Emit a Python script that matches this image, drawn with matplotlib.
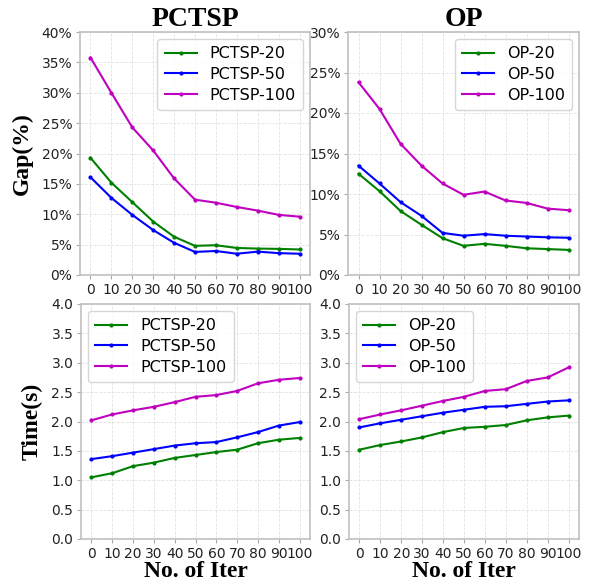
import matplotlib
matplotlib.use("Agg")
import matplotlib.pyplot as plt
from matplotlib.ticker import FuncFormatter

iters = [0, 10, 20, 30, 40, 50, 60, 70, 80, 90, 100]

pctsp_gap_20 = [19.3, 15.2, 12.0, 8.8, 6.3, 4.8, 4.9, 4.45, 4.35, 4.3, 4.2]
pctsp_gap_50 = [16.1, 12.7, 9.9, 7.4, 5.3, 3.8, 3.95, 3.5, 3.85, 3.6, 3.5]
pctsp_gap_100 = [35.8, 30.0, 24.3, 20.5, 15.9, 12.4, 11.9, 11.2, 10.6, 9.9, 9.6]

op_gap_20 = [12.5, 10.35, 7.9, 6.2, 4.55, 3.6, 3.85, 3.6, 3.3, 3.2, 3.1]
op_gap_50 = [13.5, 11.3, 9.0, 7.3, 5.2, 4.85, 5.05, 4.85, 4.75, 4.65, 4.6]
op_gap_100 = [23.8, 20.5, 16.2, 13.5, 11.3, 9.9, 10.3, 9.2, 8.9, 8.2, 8.0]

pctsp_time_20 = [1.05, 1.12, 1.24, 1.30, 1.38, 1.43, 1.48, 1.52, 1.63, 1.69, 1.72]
pctsp_time_50 = [1.36, 1.41, 1.47, 1.53, 1.59, 1.63, 1.65, 1.73, 1.82, 1.93, 1.99]
pctsp_time_100 = [2.02, 2.12, 2.19, 2.25, 2.33, 2.42, 2.45, 2.52, 2.65, 2.71, 2.74]

op_time_20 = [1.52, 1.60, 1.66, 1.73, 1.82, 1.89, 1.91, 1.94, 2.02, 2.07, 2.10]
op_time_50 = [1.90, 1.97, 2.03, 2.09, 2.15, 2.20, 2.25, 2.26, 2.30, 2.34, 2.36]
op_time_100 = [2.04, 2.12, 2.19, 2.27, 2.35, 2.42, 2.52, 2.55, 2.69, 2.75, 2.92]

colors = ["green", "blue", "m"]
serif = "Liberation Serif"

fig = plt.figure(figsize=(5.92, 5.85), dpi=100)
W, H = 592, 585

def mk(l, r, t, b):
    return fig.add_axes([l / W, 1 - b / H, (r - l) / W, (b - t) / H])

ax_tl = mk(80, 310, 32, 275)
ax_tr = mk(348, 579, 32, 275)
ax_bl = mk(81, 310, 304, 539)
ax_br = mk(349, 579, 304, 539)

def style(ax, series, labels, ylim, yticks, pct, legloc):
    for ys, lab, c in zip(series, labels, colors):
        ax.plot(iters, ys, color=c, marker='.', markersize=4, linewidth=1.5, label=lab)
    ax.set_xticks(iters)
    ax.set_xlim(-5, 105)
    ax.set_ylim(*ylim)
    ax.set_yticks(yticks)
    if pct:
        ax.yaxis.set_major_formatter(FuncFormatter(lambda v, p: f"{v:.0f}%"))
    else:
        ax.yaxis.set_major_formatter(FuncFormatter(lambda v, p: f"{v:.1f}"))
    ax.tick_params(labelsize=10, labelcolor="#222222", length=3, color="#aaaaaa", pad=2.5)
    ax.grid(True, linestyle='--', color='#e2e2e2', linewidth=0.6)
    for s in ax.spines.values():
        s.set_color('#c0c0c0')
        s.set_linewidth(1.2)
    ax.legend(loc=legloc, fontsize=11.5, handlelength=2.0, borderpad=0.45,
              labelspacing=0.35, handletextpad=0.8, fancybox=True, borderaxespad=0.45)

style(ax_tl, [pctsp_gap_20, pctsp_gap_50, pctsp_gap_100],
      ["PCTSP-20", "PCTSP-50", "PCTSP-100"], (0, 40), range(0, 41, 5), True, "upper right")
style(ax_tr, [op_gap_20, op_gap_50, op_gap_100],
      ["OP-20", "OP-50", "OP-100"], (0, 30), range(0, 31, 5), True, "upper right")
style(ax_bl, [pctsp_time_20, pctsp_time_50, pctsp_time_100],
      ["PCTSP-20", "PCTSP-50", "PCTSP-100"], (0, 4), [i * 0.5 for i in range(9)], False, "upper left")
style(ax_br, [op_time_20, op_time_50, op_time_100],
      ["OP-20", "OP-50", "OP-100"], (0, 4), [i * 0.5 for i in range(9)], False, "upper left")

ax_tl.set_title("PCTSP", fontsize=20, fontweight='bold', family=serif, pad=4)
ax_tr.set_title("OP", fontsize=20, fontweight='bold', family=serif, pad=4)
ax_tl.set_ylabel("Gap(%)", fontsize=17, fontweight='bold', family=serif, labelpad=6)
ax_bl.set_ylabel("Time(s)", fontsize=17, fontweight='bold', family=serif, labelpad=6)
ax_bl.set_xlabel("No. of Iter", fontsize=17, fontweight='bold', family=serif, labelpad=0)
ax_br.set_xlabel("No. of Iter", fontsize=17, fontweight='bold', family=serif, labelpad=0)

fig.savefig("out.png", dpi=100)
